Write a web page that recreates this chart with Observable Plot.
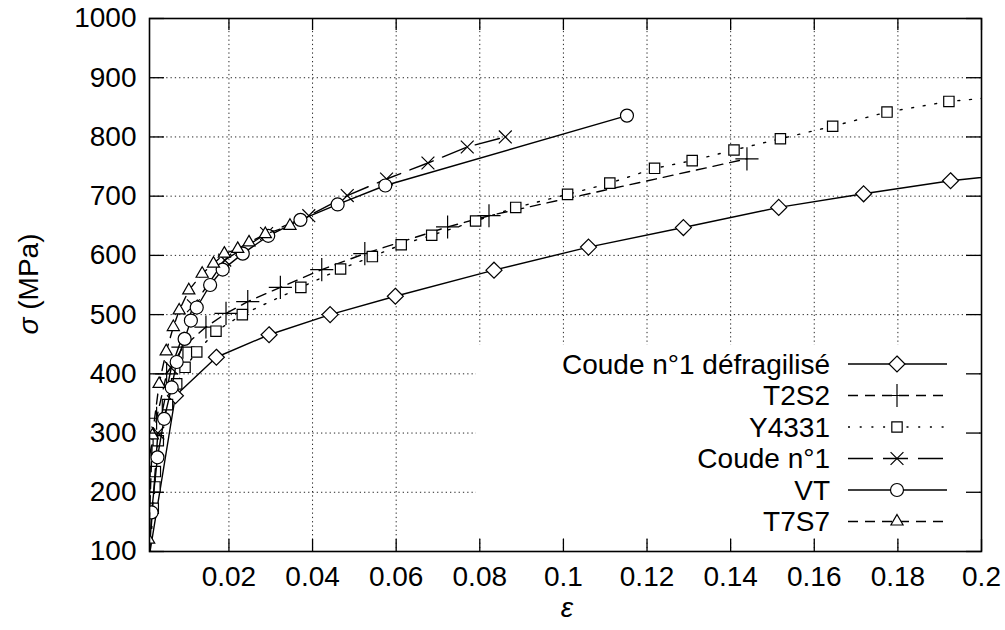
<!DOCTYPE html>
<html><head><meta charset="utf-8">
<script src="https://cdn.jsdelivr.net/npm/d3@7"></script>
<script src="https://cdn.jsdelivr.net/npm/@observablehq/plot@0.6"></script>
<style>body{margin:0;background:#fff;}</style>
</head><body><div id="chart"></div>
<script>
// ---- data ----
const seriesNames = ["Coude n°1 défragilisé", "T2S2", "Y4331", "Coude n°1", "VT", "T7S7"];
const xTicks = [0.02, 0.04, 0.06, 0.08, 0.1, 0.12, 0.14, 0.16, 0.18, 0.2];
const yTicks = [100, 200, 300, 400, 500, 600, 700, 800, 900, 1000];
const xDomain = [0.001, 0.2];
const yDomain = [100, 1000];

const strainDefrag = [0.0009, 0.0072, 0.017, 0.0296, 0.0442, 0.0598, 0.0834, 0.106, 0.1287, 0.1515, 0.1718, 0.1926, 0.21];
const stressDefrag = [90, 363, 428, 466, 500, 531, 575, 614, 647, 681, 704, 726, 739];

const strainT2S2 = [0.0003, 0.0027, 0.0051, 0.009, 0.0145, 0.0193, 0.0245, 0.0323, 0.0422, 0.0525, 0.0723, 0.0822, 0.1439];
const stressT2S2 = [234, 325, 400, 445, 479, 502, 522, 546, 576, 603, 648, 667, 763];

const strainY4331 = [0.0009, 0.0019, 0.0023, 0.0024, 0.0031, 0.0053, 0.0075, 0.0095, 0.0123, 0.0169, 0.0232, 0.0372, 0.0467, 0.0543, 0.0612, 0.0685, 0.079, 0.0886, 0.101, 0.1111, 0.1218, 0.1308, 0.1408, 0.1519, 0.1644, 0.1774, 0.1922, 0.205];
const stressY4331 = [80, 173, 209, 235, 287, 348, 383, 411, 437, 472, 500, 546, 577, 598, 618, 634, 658, 681, 703, 722, 747, 760, 778, 797, 818, 842, 860, 868];

const strainCoude1 = [0.0008, 0.003, 0.0062, 0.0115, 0.019, 0.029, 0.0391, 0.0483, 0.0577, 0.0676, 0.077, 0.0861];
const stressCoude1 = [80, 300, 410, 515, 592, 637, 667, 701, 729, 756, 783, 800];

const strainVT = [0.0008, 0.0015, 0.0029, 0.0045, 0.0063, 0.0075, 0.0094, 0.0109, 0.0123, 0.0155, 0.0185, 0.0233, 0.0294, 0.0371, 0.046, 0.0574, 0.1152];
const stressVT = [60, 166, 259, 324, 377, 420, 459, 490, 512, 550, 576, 603, 633, 660, 686, 718, 836];

const strainT7S7 = [0.0008, 0.0017, 0.0033, 0.005, 0.0067, 0.0081, 0.0104, 0.0136, 0.0163, 0.0189, 0.0221, 0.0248, 0.0287, 0.0346];
const stressT7S7 = [120, 296, 383, 438, 479, 507, 541, 569, 586, 603, 611, 622, 636, 650];

// ---- styles ----
const styles = [
  {symbol: "diamond2", r: 7.2, dash: null, fill: "#fff"},
  {symbol: "plus", r: 7.5, dash: "10,7", fill: "none"},
  {symbol: "square2", r: 6.6, dash: "2,9.7", fill: "#fff"},
  {symbol: "times", r: 5.9, dash: "25,10", fill: "none"},
  {symbol: "circle", r: 6.5, dash: null, fill: "#fff"},
  {symbol: "triangle2", r: 5.8, dash: "10,7", fill: "#fff"}
];
const strains = [strainDefrag, strainT2S2, strainY4331, strainCoude1, strainVT, strainT7S7];
const stresses = [stressDefrag, stressT2S2, stressY4331, stressCoude1, stressVT, stressT7S7];
const series = seriesNames.map((name, i) => ({
  name, ...styles[i],
  data: strains[i].map((x, j) => ({x, y: stresses[i][j]}))
}));

const W = 1005, H = 630, mL = 149, mR = 24, mT = 18, mB = 79;
const fw = W - mL - mR, fh = H - mT - mB;
const FONT = "Liberation Sans";

const marks = [
  Plot.gridX(xTicks.slice(0, -1), {stroke: "#000", strokeOpacity: 0.85, strokeWidth: 1, strokeDasharray: "1.3,3"}),
  Plot.gridY(yTicks.slice(1, -1), {stroke: "#000", strokeOpacity: 0.85, strokeWidth: 1, strokeDasharray: "1.3,3"})
];
for (const s of series) {
  marks.push(Plot.line(s.data, {x: "x", y: "y", stroke: "#000", strokeWidth: 1.4, strokeDasharray: s.dash, clip: true}));
  marks.push(Plot.dot(s.data, {x: "x", y: "y", symbol: s.symbol, r: s.r, stroke: "#000", strokeWidth: 1.2, fill: s.fill, clip: true}));
}
marks.push(
  Plot.ruleX(xTicks, {x: d => d, insetTop: fh - 12, stroke: "#000", strokeWidth: 1.3}),
  Plot.ruleX(xTicks, {x: d => d, insetBottom: fh - 12, stroke: "#000", strokeWidth: 1.3}),
  Plot.ruleY(yTicks, {y: d => d, insetRight: fw - 15, stroke: "#000", strokeWidth: 1.3}),
  Plot.ruleY(yTicks, {y: d => d, insetLeft: fw - 15, stroke: "#000", strokeWidth: 1.3}),
  Plot.axisX(xTicks, {anchor: "bottom", tickSize: 0, tickPadding: 15, fontSize: 28, label: null, tickFormat: d => String(d)}),
  Plot.axisY(yTicks, {anchor: "left", tickSize: 0, tickPadding: 13, fontSize: 28, label: null, tickFormat: d => String(d)}),
  Plot.frame({stroke: "#000", strokeWidth: 1.6})
);

const chart = Plot.plot({
  width: W, height: H,
  marginLeft: mL, marginRight: mR, marginTop: mT, marginBottom: mB,
  style: {fontFamily: FONT, fontSize: "28px", color: "#000", background: "#fff"},
  x: {domain: xDomain},
  y: {domain: yDomain},
  marks
});
document.getElementById("chart").appendChild(chart);

// ---- legend (inside the frame, bottom right) and axis titles ----
const svg = d3.select(chart);
const firstRule = chart.querySelector('[aria-label="rule"]');
const lg = firstRule ? svg.insert("g", () => firstRule) : svg.append("g");
lg.style("font-family", FONT).attr("font-size", 28);
lg.append("rect").attr("x", 476).attr("y", 345).attr("width", 503).attr("height", 191).attr("fill", "#fff");
const symMap = {diamond2: d3.symbolDiamond2, plus: d3.symbolPlus, square2: d3.symbolSquare2,
  times: d3.symbolTimes, circle: d3.symbolCircle, triangle2: d3.symbolTriangle2};
series.forEach((s, i) => {
  const y = 364 + i * 31.5;
  const row = lg.append("g");
  row.append("text").attr("x", 830).attr("y", y).attr("text-anchor", "end")
    .attr("dominant-baseline", "central").attr("fill", "#000").text(s.name);
  row.append("line").attr("x1", 848).attr("x2", 947).attr("y1", y).attr("y2", y)
    .attr("stroke", "#000").attr("stroke-width", 1.4).attr("stroke-dasharray", s.dash);
  row.append("path").attr("transform", `translate(897,${y})`)
    .attr("d", d3.symbol(symMap[s.symbol], Math.PI * s.r * s.r)())
    .attr("stroke", "#000").attr("stroke-width", 1.2).attr("fill", s.fill === "none" ? "none" : "#fff");
});

const yl = svg.append("text").attr("transform", "translate(28,284) rotate(-90)")
  .attr("text-anchor", "middle").attr("dominant-baseline", "central")
  .style("font-family", FONT).attr("font-size", 28).attr("fill", "#000");
yl.append("tspan").attr("font-style", "italic").text("σ");
yl.append("tspan").text(" (MPa)");
svg.append("text").attr("x", 567).attr("y", 607).attr("text-anchor", "middle")
  .attr("dominant-baseline", "central").style("font-family", FONT).attr("font-size", 28)
  .attr("font-style", "italic").attr("fill", "#000").text("ε");
</script>
</body></html>
